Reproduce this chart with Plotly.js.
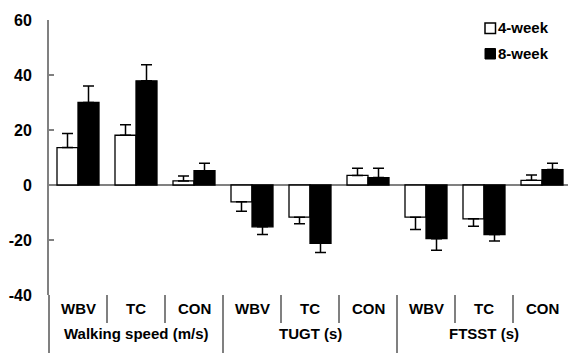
<!DOCTYPE html>
<html><head><meta charset="utf-8">
<script src="https://cdn.plot.ly/plotly-3.0.1.min.js"></script>
<style>html,body{margin:0;padding:0;background:#fff}</style>
</head><body><div id="chart" style="width:568px;height:353px"></div>
<script>
// ---- data ----
const outcomes = ['Walking speed (m/s)', 'TUGT (s)', 'FTSST (s)'];
const arms = ['WBV', 'TC', 'CON'];
const seriesNames = ['4-week', '8-week'];
const week4 = [13.6, 18.1, 1.5, -6.1, -11.7, 3.5, -11.7, -12.3, 1.7];
const week4Err = [5.1, 3.8, 1.8, 3.4, 2.4, 2.6, 4.5, 2.7, 1.9];
const week8 = [30.0, 37.9, 5.2, -15.2, -21.2, 2.7, -19.5, -18.0, 5.6];
const week8Err = [6.0, 5.8, 2.7, 2.8, 3.3, 3.4, 4.2, 2.4, 2.3];
const yTicks = [-40, -20, 0, 20, 40, 60];

// ---- build ----
const groupCol = [], armCol = [];
outcomes.forEach(o => arms.forEach(a => { groupCol.push(o); armCol.push(a); }));
const nCat = groupCol.length;

function errUp(v, e) { return v.map((d, i) => d >= 0 ? e[i] : 0); }
function errDown(v, e) { return v.map((d, i) => d < 0 ? e[i] : 0); }

const FONT = 'Liberation Sans, Arial, sans-serif';
const GREY = '#808080';

function barTrace(name, vals, errs, fill) {
  return {
    type: 'bar', name: name,
    x: [groupCol, armCol], y: vals,
    marker: {color: fill, line: {color: '#000', width: 1.3}},
    error_y: {type: 'data', symmetric: false, array: errUp(vals, errs), arrayminus: errDown(vals, errs),
              color: '#000', thickness: 1.5, width: 5.5},
    showlegend: false, hoverinfo: 'skip'
  };
}

const traces = [
  barTrace(seriesNames[0], week4, week4Err, '#ffffff'),
  barTrace(seriesNames[1], week8, week8Err, '#000000')
];

const CAT = 58;
const plotL = 49, plotR = 568, plotT = 20, plotB = 295;
const pw = plotR - plotL, ph = plotB - plotT;
const px2x = p => (p - plotL) / pw;
const px2y = p => (plotB - p) / ph;

const shapes = [];
const annotations = [];
// separators below the plot
for (let i = 0; i <= nCat; i++) {
  const isGroup = i % arms.length === 0;
  const xp = i * CAT / pw;
  if (xp > 1.001) continue;
  shapes.push({type: 'line', xref: 'paper', yref: 'paper', x0: xp, x1: xp,
    y0: 0, y1: isGroup ? px2y(354) : px2y(323), line: {color: GREY, width: 2}});
}
// category labels
const lblFont = {family: FONT, size: 15, color: '#000', weight: 'bold'};
armCol.forEach((a, i) => {
  annotations.push({xref: 'paper', yref: 'paper', x: (i + 0.5) * CAT / pw, y: px2y(308.5),
    xanchor: 'center', yanchor: 'middle', showarrow: false, text: a, font: lblFont});
});
outcomes.forEach((o, g) => {
  annotations.push({xref: 'paper', yref: 'paper', x: (g + 0.5) * arms.length * CAT / pw, y: px2y(333.5),
    xanchor: 'center', yanchor: 'middle', showarrow: false, text: o, font: lblFont});
});
// legend markers
shapes.push({type: 'rect', xref: 'paper', yref: 'paper', x0: px2x(485), x1: px2x(495.5), y0: px2y(33.5), y1: px2y(23),
  fillcolor: '#fff', line: {color: '#000', width: 1.5}});
shapes.push({type: 'rect', xref: 'paper', yref: 'paper', x0: px2x(485), x1: px2x(495.5), y0: px2y(59), y1: px2y(48.5),
  fillcolor: '#000', line: {color: '#000', width: 1}});
annotations.push(
  {xref: 'paper', yref: 'paper', x: px2x(496), y: px2y(28), xanchor: 'left', yanchor: 'middle', showarrow: false,
   text: seriesNames[0], font: {family: FONT, size: 15, color: '#000', weight: 'bold'}},
  {xref: 'paper', yref: 'paper', x: px2x(496), y: px2y(53.5), xanchor: 'left', yanchor: 'middle', showarrow: false,
   text: seriesNames[1], font: {family: FONT, size: 15, color: '#000', weight: 'bold'}}
);

const layout = {
  width: 568, height: 353,
  margin: {l: plotL, r: 568 - plotR, t: plotT, b: 353 - plotB, pad: 0},
  paper_bgcolor: '#fff', plot_bgcolor: '#fff',
  barmode: 'group', bargap: 0.276, bargroupgap: 0,
  font: {family: FONT, color: '#000'},
  xaxis: {type: 'multicategory', range: [-0.5, -0.5 + pw / CAT], showgrid: false, showline: false,
          zeroline: false, ticks: '', showdividers: false, showticklabels: false},
  yaxis: {range: [-40, 60], tickvals: yTicks, ticktext: yTicks.map(String),
          showgrid: false, showline: true, linecolor: GREY, linewidth: 2,
          ticks: 'inside', ticklen: 5, tickcolor: GREY, tickwidth: 2,
          zeroline: true, zerolinecolor: GREY, zerolinewidth: 2, ticklabelstandoff: 12,
          tickfont: {family: FONT, size: 16, color: '#000', weight: 'bold'}},
  shapes: shapes, annotations: annotations, showlegend: false
};

Plotly.newPlot('chart', traces, layout, {displayModeBar: false, staticPlot: true});
</script></body></html>
